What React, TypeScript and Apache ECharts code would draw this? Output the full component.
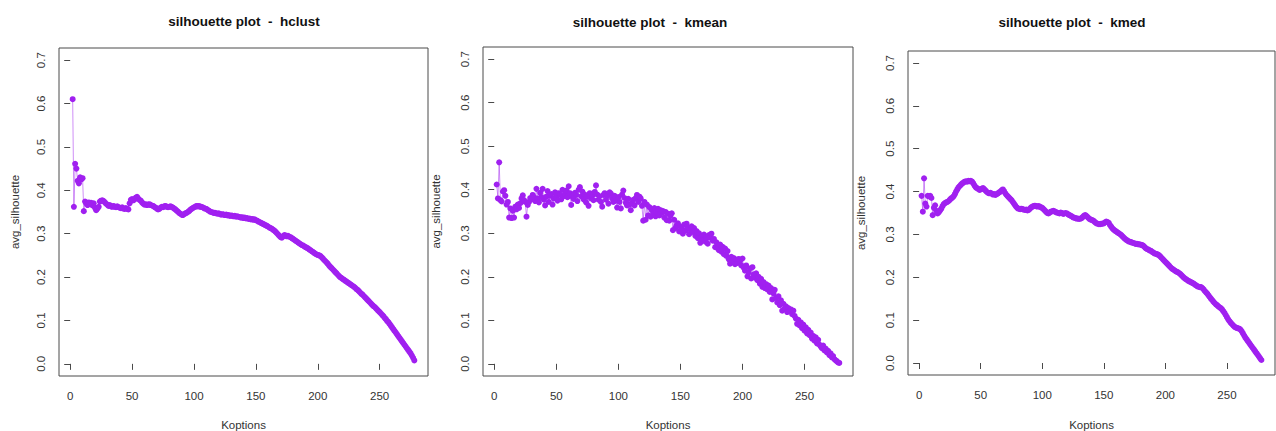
import React, { useEffect, useRef } from "react";
import * as echarts from "echarts";

// K (number of clusters) starts at 2 and increases by one for every value below
const kStart = 2;

const hclustValues = [
  0.610, 0.362, 0.461, 0.450, 0.422, 0.416, 0.430, 0.425, 0.428, 0.352,
  0.374, 0.370, 0.366, 0.372, 0.368, 0.371, 0.365, 0.370, 0.360, 0.354,
  0.358, 0.362, 0.374, 0.376, 0.377, 0.375, 0.372, 0.369, 0.367, 0.364,
  0.366, 0.363, 0.362, 0.364, 0.362, 0.361, 0.363, 0.361, 0.360, 0.359,
  0.361, 0.358, 0.357, 0.359, 0.357, 0.356, 0.370, 0.378, 0.380, 0.377,
  0.379, 0.383, 0.385, 0.381, 0.378, 0.376, 0.372, 0.369, 0.367, 0.368,
  0.366, 0.367, 0.368, 0.366, 0.365, 0.364, 0.362, 0.360, 0.358, 0.356,
  0.357, 0.360, 0.362, 0.361, 0.363, 0.364, 0.362, 0.361, 0.362, 0.363,
  0.362, 0.360, 0.358, 0.356, 0.353, 0.351, 0.348, 0.346, 0.344, 0.343,
  0.345, 0.347, 0.348, 0.350, 0.352, 0.355, 0.357, 0.359, 0.361, 0.362,
  0.364, 0.363, 0.364, 0.362, 0.362, 0.361, 0.359, 0.358, 0.357, 0.355,
  0.353, 0.351, 0.350, 0.349, 0.348, 0.348, 0.347, 0.346, 0.347, 0.345,
  0.344, 0.345, 0.344, 0.343, 0.344, 0.342, 0.343, 0.341, 0.342, 0.341,
  0.340, 0.341, 0.339, 0.340, 0.339, 0.338, 0.337, 0.338, 0.336, 0.337,
  0.335, 0.336, 0.334, 0.335, 0.333, 0.334, 0.332, 0.333, 0.331, 0.330,
  0.328, 0.327, 0.325, 0.324, 0.322, 0.321, 0.319, 0.318, 0.316, 0.314,
  0.313, 0.311, 0.309, 0.307, 0.304, 0.301, 0.298, 0.295, 0.292, 0.291,
  0.294, 0.297, 0.296, 0.294, 0.295, 0.293, 0.292, 0.290, 0.288, 0.286,
  0.284, 0.282, 0.280, 0.278, 0.276, 0.274, 0.273, 0.271, 0.269, 0.268,
  0.266, 0.264, 0.262, 0.260, 0.258, 0.256, 0.254, 0.252, 0.251, 0.250,
  0.249, 0.246, 0.243, 0.240, 0.237, 0.234, 0.231, 0.227, 0.224, 0.221,
  0.218, 0.215, 0.212, 0.209, 0.206, 0.203, 0.200, 0.198, 0.196, 0.194,
  0.192, 0.190, 0.188, 0.186, 0.184, 0.182, 0.180, 0.178, 0.176, 0.173,
  0.171, 0.168, 0.165, 0.162, 0.160, 0.157, 0.154, 0.151, 0.148, 0.145,
  0.142, 0.139, 0.136, 0.133, 0.131, 0.128, 0.125, 0.122, 0.119, 0.116,
  0.113, 0.110, 0.106, 0.103, 0.099, 0.096, 0.092, 0.088, 0.084, 0.080,
  0.076, 0.072, 0.068, 0.064, 0.060, 0.056, 0.052, 0.048, 0.044, 0.040,
  0.036, 0.032, 0.028, 0.024, 0.019, 0.014, 0.008,
];

const kmeanValues = [
  0.412, 0.380, 0.463, 0.376, 0.373, 0.396, 0.399, 0.386, 0.366, 0.372,
  0.336, 0.357, 0.335, 0.352, 0.336, 0.361, 0.355, 0.366, 0.358, 0.369,
  0.380, 0.387, 0.376, 0.372, 0.338, 0.365, 0.372, 0.381, 0.378, 0.388,
  0.383, 0.374, 0.402, 0.380, 0.371, 0.393, 0.383, 0.402, 0.377, 0.364,
  0.384, 0.397, 0.372, 0.386, 0.390, 0.366, 0.380, 0.394, 0.384, 0.375,
  0.392, 0.389, 0.378, 0.400, 0.385, 0.390, 0.398, 0.383, 0.408, 0.392,
  0.365, 0.384, 0.379, 0.393, 0.388, 0.374, 0.400, 0.406, 0.385, 0.396,
  0.378, 0.389, 0.371, 0.384, 0.363, 0.392, 0.380, 0.387, 0.376, 0.395,
  0.410, 0.389, 0.377, 0.385, 0.372, 0.361, 0.388, 0.392, 0.377, 0.385,
  0.368, 0.394, 0.391, 0.380, 0.372, 0.386, 0.375, 0.359, 0.383, 0.372,
  0.357, 0.389, 0.398, 0.381, 0.370, 0.364, 0.379, 0.366, 0.353, 0.370,
  0.377, 0.364, 0.381, 0.388, 0.372, 0.384, 0.380, 0.363, 0.329, 0.372,
  0.331, 0.366, 0.341, 0.360, 0.338, 0.353, 0.344, 0.358, 0.339, 0.348,
  0.356, 0.341, 0.353, 0.347, 0.351, 0.336, 0.349, 0.330, 0.345, 0.329,
  0.340, 0.346, 0.307, 0.331, 0.312, 0.318, 0.323, 0.304, 0.315, 0.311,
  0.299, 0.320, 0.306, 0.322, 0.313, 0.298, 0.309, 0.316, 0.303, 0.312,
  0.294, 0.305, 0.289, 0.300, 0.278, 0.292, 0.284, 0.297, 0.281, 0.288,
  0.276, 0.296, 0.290, 0.299, 0.283, 0.287, 0.268, 0.279, 0.266, 0.261,
  0.274, 0.258, 0.269, 0.252, 0.265, 0.248, 0.259, 0.240, 0.230, 0.246,
  0.236, 0.243, 0.229, 0.239, 0.232, 0.241, 0.236, 0.226, 0.242, 0.221,
  0.214, 0.226, 0.201, 0.210, 0.219, 0.196, 0.222, 0.205, 0.198, 0.208,
  0.192, 0.200, 0.184, 0.195, 0.177, 0.188, 0.174, 0.183, 0.171, 0.180,
  0.165, 0.174, 0.148, 0.162, 0.170, 0.152, 0.141, 0.155, 0.135, 0.146,
  0.122, 0.138, 0.127, 0.132, 0.119, 0.128, 0.121, 0.125, 0.114, 0.122,
  0.110, 0.104, 0.092, 0.101, 0.088, 0.095, 0.082, 0.090, 0.076, 0.084,
  0.070, 0.078, 0.066, 0.072, 0.058, 0.064, 0.053, 0.061, 0.047, 0.055,
  0.044, 0.040, 0.036, 0.042, 0.031, 0.035, 0.026, 0.030, 0.020, 0.024,
  0.015, 0.018, 0.011, 0.008, 0.006, 0.003, 0.002,
];

const kmedValues = [
  0.390, 0.353, 0.431, 0.372, 0.365, 0.390, 0.389, 0.390, 0.385, 0.345,
  0.362, 0.368, 0.355, 0.349, 0.352, 0.356, 0.360, 0.366, 0.371, 0.373,
  0.375, 0.376, 0.378, 0.381, 0.384, 0.386, 0.389, 0.394, 0.400, 0.405,
  0.410, 0.413, 0.416, 0.419, 0.421, 0.423, 0.424, 0.423, 0.425, 0.424,
  0.425, 0.423, 0.419, 0.414, 0.410, 0.408, 0.406, 0.404, 0.405, 0.407,
  0.408, 0.405, 0.402, 0.399, 0.397, 0.396, 0.397, 0.395, 0.393, 0.394,
  0.392, 0.394, 0.396, 0.398, 0.400, 0.403, 0.405, 0.401, 0.396, 0.392,
  0.389, 0.386, 0.383, 0.380, 0.376, 0.372, 0.368, 0.364, 0.361, 0.360,
  0.359, 0.360, 0.359, 0.358, 0.357, 0.358, 0.356, 0.357, 0.360, 0.363,
  0.365, 0.366, 0.367, 0.366, 0.365, 0.366, 0.365, 0.363, 0.362, 0.359,
  0.356, 0.353, 0.350, 0.349, 0.351, 0.353, 0.354, 0.355, 0.354, 0.352,
  0.351, 0.350, 0.349, 0.351, 0.350, 0.348, 0.349, 0.350, 0.349, 0.347,
  0.345, 0.344, 0.342, 0.340, 0.339, 0.338, 0.337, 0.337, 0.336, 0.337,
  0.338, 0.341, 0.344, 0.345, 0.343, 0.340, 0.337, 0.335, 0.334, 0.333,
  0.331, 0.328, 0.326, 0.325, 0.324, 0.324, 0.325, 0.325, 0.326, 0.328,
  0.330, 0.329, 0.327, 0.322, 0.318, 0.314, 0.311, 0.309, 0.307, 0.305,
  0.303, 0.301, 0.299, 0.296, 0.293, 0.290, 0.288, 0.286, 0.284, 0.283,
  0.282, 0.281, 0.280, 0.279, 0.278, 0.278, 0.277, 0.277, 0.276, 0.275,
  0.274, 0.271, 0.268, 0.266, 0.265, 0.263, 0.262, 0.260, 0.258, 0.256,
  0.255, 0.254, 0.253, 0.251, 0.248, 0.245, 0.242, 0.239, 0.236, 0.233,
  0.230, 0.227, 0.224, 0.221, 0.219, 0.217, 0.215, 0.213, 0.212, 0.210,
  0.208, 0.205, 0.202, 0.199, 0.197, 0.195, 0.193, 0.191, 0.190, 0.188,
  0.187, 0.185, 0.183, 0.181, 0.179, 0.178, 0.177, 0.177, 0.175, 0.172,
  0.168, 0.165, 0.162, 0.158, 0.154, 0.150, 0.147, 0.143, 0.140, 0.137,
  0.135, 0.132, 0.130, 0.128, 0.125, 0.121, 0.117, 0.112, 0.107, 0.102,
  0.098, 0.094, 0.091, 0.088, 0.085, 0.083, 0.082, 0.081, 0.080, 0.078,
  0.074, 0.069, 0.064, 0.059, 0.055, 0.051, 0.047, 0.043, 0.039, 0.035,
  0.031, 0.027, 0.023, 0.019, 0.015, 0.011, 0.007,
];

const seriesValues = [hclustValues, kmeanValues, kmedValues];
const panelTitles = [
  "silhouette plot  -  hclust",
  "silhouette plot  -  kmean",
  "silhouette plot  -  kmed",
];
const xTicks = [0, 50, 100, 150, 200, 250];
const yTicks = [0, 0.1, 0.2, 0.3, 0.4, 0.5, 0.6, 0.7];
const xAxisName = "Koptions";
const yAxisName = "avg_silhouette";

const FONT = "'Liberation Sans', Arial, Helvetica, sans-serif";
const PURPLE = "#A020F0";
const AXIS = "#4a4a4a";
const TEXT = "#333";

const PANELS = [
  { left: 59, top: 48, width: 369, height: 328, titleX: 244, titleY: 21, yNameX: 15 },
  { left: 483, top: 47, width: 370, height: 329, titleX: 650, titleY: 22, yNameX: 436 },
  { left: 908, top: 51, width: 367, height: 324, titleX: 1072, titleY: 22, yNameX: 861 },
];

export default function App() {
  const ref = useRef<HTMLDivElement>(null);

  useEffect(() => {
    document.body.style.margin = "0";
    if (!ref.current) return;
    const chart = echarts.init(ref.current, null, { renderer: "svg" });

    const graphic: any[] = [];
    PANELS.forEach((p, i) => {
      graphic.push({
        type: "text",
        x: p.titleX,
        y: p.titleY,
        style: {
          text: panelTitles[i],
          fontFamily: FONT,
          fontWeight: "bold",
          fontSize: 13.5,
          fill: "#111",
          textAlign: "center",
          textVerticalAlign: "middle",
        },
      });
      graphic.push({
        type: "text",
        x: p.left + p.width / 2,
        y: 425,
        style: {
          text: xAxisName,
          fontFamily: FONT,
          fontSize: 11.5,
          fill: TEXT,
          textAlign: "center",
          textVerticalAlign: "middle",
        },
      });
      graphic.push({
        type: "text",
        x: p.yNameX,
        y: p.top + p.height / 2,
        rotation: Math.PI / 2,
        style: {
          text: yAxisName,
          fontFamily: FONT,
          fontSize: 11.5,
          fill: TEXT,
          textAlign: "center",
          textVerticalAlign: "middle",
        },
      });
    });

    const option: any = {
      animation: false,
      backgroundColor: "#fff",
      grid: PANELS.map((p) => ({
        left: p.left,
        top: p.top,
        width: p.width,
        height: p.height,
        show: true,
        borderColor: AXIS,
        borderWidth: 1,
        backgroundColor: "transparent",
        containLabel: false,
      })),
      xAxis: PANELS.map((_, i) => ({
        type: "value",
        gridIndex: i,
        min: -9.04,
        max: 289.04,
        axisLine: { show: false },
        splitLine: { show: false },
        axisTick: {
          show: true,
          inside: false,
          length: 6,
          customValues: xTicks,
          lineStyle: { color: AXIS, width: 1 },
        },
        axisLabel: {
          customValues: xTicks,
          margin: 14,
          fontSize: 11.5,
          fontFamily: FONT,
          color: TEXT,
        },
      })),
      yAxis: PANELS.map((_, i) => ({
        type: "value",
        gridIndex: i,
        min: -0.028,
        max: 0.728,
        axisLine: { show: false },
        splitLine: { show: false },
        axisTick: {
          show: true,
          inside: false,
          length: 6,
          customValues: yTicks,
          lineStyle: { color: AXIS, width: 1 },
        },
        axisLabel: {
          customValues: yTicks,
          rotate: 90,
          margin: 12,
          fontSize: 11.5,
          fontFamily: FONT,
          color: TEXT,
          formatter: (v: number) => v.toFixed(1),
        },
      })),
      series: seriesValues.map((vals, i) => ({
        type: "line",
        xAxisIndex: i,
        yAxisIndex: i,
        data: vals.map((v, j) => [kStart + j, v]),
        symbol: "circle",
        symbolSize: 6,
        showSymbol: true,
        showAllSymbol: true,
        lineStyle: { color: PURPLE, width: 1, opacity: 0.5 },
        itemStyle: { color: PURPLE },
        emphasis: { disabled: true },
      })),
      graphic,
    };

    chart.setOption(option);
    return () => chart.dispose();
  }, []);

  return <div ref={ref} style={{ width: 1276, height: 431 }} />;
}
